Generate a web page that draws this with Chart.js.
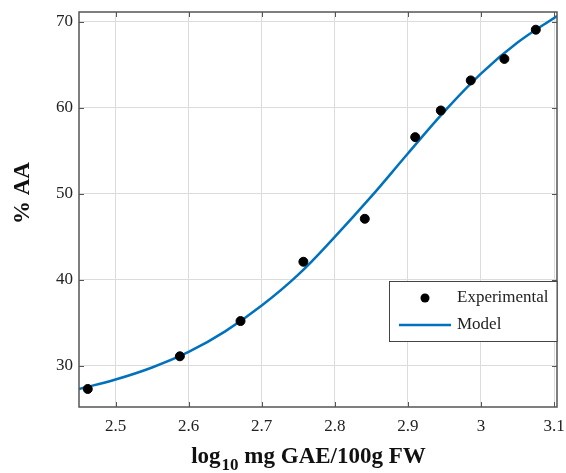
<!DOCTYPE html>
<html>
<head>
<meta charset="utf-8">
<script src="https://cdn.jsdelivr.net/npm/chart.js@4.4.0/dist/chart.umd.min.js"></script>
<style>
  html, body { margin: 0; padding: 0; background: #fff; }
  #wrap { width: 566px; height: 473px; }
</style>
</head>
<body>
<div id="wrap"><canvas id="chart"></canvas></div>
<script>
// experimental points
const expX = [2.462, 2.588, 2.671, 2.757, 2.841, 2.910, 2.945, 2.986, 3.032, 3.075];
const expY = [27.3, 31.1, 35.2, 42.1, 47.1, 56.6, 59.7, 63.2, 65.7, 69.1];
// fitted model curve
const modelX = [2.45, 2.5, 2.55, 2.6, 2.65, 2.7, 2.75, 2.8, 2.85, 2.9, 2.95, 3.0, 3.05, 3.104];
const modelY = [27.3, 28.4, 29.8, 31.6, 34.0, 37.0, 40.6, 45.0, 49.7, 54.7, 59.6, 64.0, 67.6, 70.7];
// tick labels
const xTicks = [2.5, 2.6, 2.7, 2.8, 2.9, 3, 3.1];
const yTicks = [30, 40, 50, 60, 70];

const FONT = "'Liberation Serif', 'Times New Roman', serif";
const BLUE = "#0072BD";
const AXIS = "#555";

const frame = {
  id: "frame",
  afterDatasetsDraw(chart) {
    const { ctx, chartArea: a, scales } = chart;
    ctx.save();
    ctx.strokeStyle = AXIS;
    ctx.lineWidth = 1.5;
    ctx.strokeRect(a.left, a.top, a.right - a.left, a.bottom - a.top);
    ctx.lineWidth = 1;
    ctx.beginPath();
    xTicks.forEach((v) => {
      const px = Math.round(scales.x.getPixelForValue(v)) + 0.5;
      ctx.moveTo(px, a.bottom); ctx.lineTo(px, a.bottom - 5);
      ctx.moveTo(px, a.top); ctx.lineTo(px, a.top + 5);
    });
    yTicks.forEach((v) => {
      const py = Math.round(scales.y.getPixelForValue(v)) + 0.5;
      ctx.moveTo(a.left, py); ctx.lineTo(a.left + 5, py);
      ctx.moveTo(a.right, py); ctx.lineTo(a.right - 5, py);
    });
    ctx.stroke();
    ctx.restore();
  },
  afterDraw(chart) {
    const { ctx, chartArea: a } = chart;
    const ds = chart.data.datasets;
    ctx.save();
    // legend box
    const lx = 389.5, ly = 281.5, lw = a.right - 389.5, lh = 60;
    ctx.fillStyle = "#fff";
    ctx.fillRect(lx, ly, lw, lh);
    ctx.strokeStyle = "#444";
    ctx.lineWidth = 1;
    ctx.strokeRect(lx, ly, lw, lh);
    ctx.fillStyle = "#000";
    ctx.beginPath();
    ctx.arc(425, 298, 4.5, 0, Math.PI * 2);
    ctx.fill();
    ctx.strokeStyle = BLUE;
    ctx.lineWidth = 2.5;
    ctx.beginPath();
    ctx.moveTo(399, 325); ctx.lineTo(451, 325);
    ctx.stroke();
    ctx.fillStyle = "#222";
    ctx.font = "17px " + FONT;
    ctx.textBaseline = "middle";
    ctx.textAlign = "left";
    ctx.fillText(ds[0].label, 457, 298);
    ctx.fillText(ds[1].label, 457, 325);

    // axis titles
    ctx.fillStyle = "#111";
    ctx.textBaseline = "alphabetic";
    const big = "bold 23px " + FONT, small = "bold 17px " + FONT;
    const p1 = "log", p2 = "10", p3 = " mg GAE/100g FW";
    ctx.font = big; const w1 = ctx.measureText(p1).width, w3 = ctx.measureText(p3).width;
    ctx.font = small; const w2 = ctx.measureText(p2).width;
    let x0 = 308 - (w1 + w2 + w3) / 2;
    const base = 463;
    ctx.font = big; ctx.fillText(p1, x0, base);
    ctx.font = small; ctx.fillText(p2, x0 + w1 + 1, base + 7);
    ctx.font = big; ctx.fillText(p3, x0 + w1 + w2 + 1, base);

    ctx.translate(23, 193);
    ctx.rotate(-Math.PI / 2);
    ctx.textAlign = "center";
    ctx.textBaseline = "middle";
    ctx.fillText("% AA", 0, 0);
    ctx.restore();
  }
};

new Chart(document.getElementById("chart"), {
  type: "scatter",
  data: {
    datasets: [
      {
        label: "Experimental",
        data: expX.map((x, i) => ({ x, y: expY[i] })),
        backgroundColor: "#000",
        borderColor: "#000",
        pointRadius: 4.5,
        order: 1,
      },
      {
        label: "Model",
        type: "line",
        data: modelX.map((x, i) => ({ x, y: modelY[i] })),
        borderColor: BLUE,
        backgroundColor: BLUE,
        borderWidth: 2.5,
        pointRadius: 0,
        tension: 0.4,
        fill: false,
        order: 2,
      },
    ],
  },
  options: {
    responsive: true,
    maintainAspectRatio: false,
    animation: false,
    events: [],
    layout: { padding: { top: 12, right: 9, left: 0, bottom: 0 }, autoPadding: false },
    plugins: { legend: { display: false }, tooltip: { enabled: false } },
    scales: {
      x: {
        type: "linear",
        min: 2.45,
        max: 3.104,
        afterBuildTicks: (s) => { s.ticks = xTicks.map((v) => ({ value: v })); },
        afterFit: (s) => { s.height = 66; s.paddingLeft = 0; s.paddingRight = 0; },
        grid: { color: "#dcdcdc", lineWidth: 1, drawTicks: false },
        border: { display: false },
        ticks: {
          padding: 9,
          color: "#222",
          font: { family: FONT, size: 17 },
          maxRotation: 0,
          autoSkip: false,
          callback: (v) => String(v),
        },
      },
      y: {
        type: "linear",
        min: 25.2,
        max: 71.16,
        afterBuildTicks: (s) => { s.ticks = yTicks.map((v) => ({ value: v })); },
        afterFit: (s) => { s.width = 79; s.paddingTop = 0; s.paddingBottom = 0; },
        grid: { color: "#dcdcdc", lineWidth: 1, drawTicks: false },
        border: { display: false },
        ticks: {
          padding: 6,
          color: "#222",
          font: { family: FONT, size: 17 },
          autoSkip: false,
          callback: (v) => String(v),
        },
      },
    },
  },
  plugins: [frame],
});
</script>
</body>
</html>
